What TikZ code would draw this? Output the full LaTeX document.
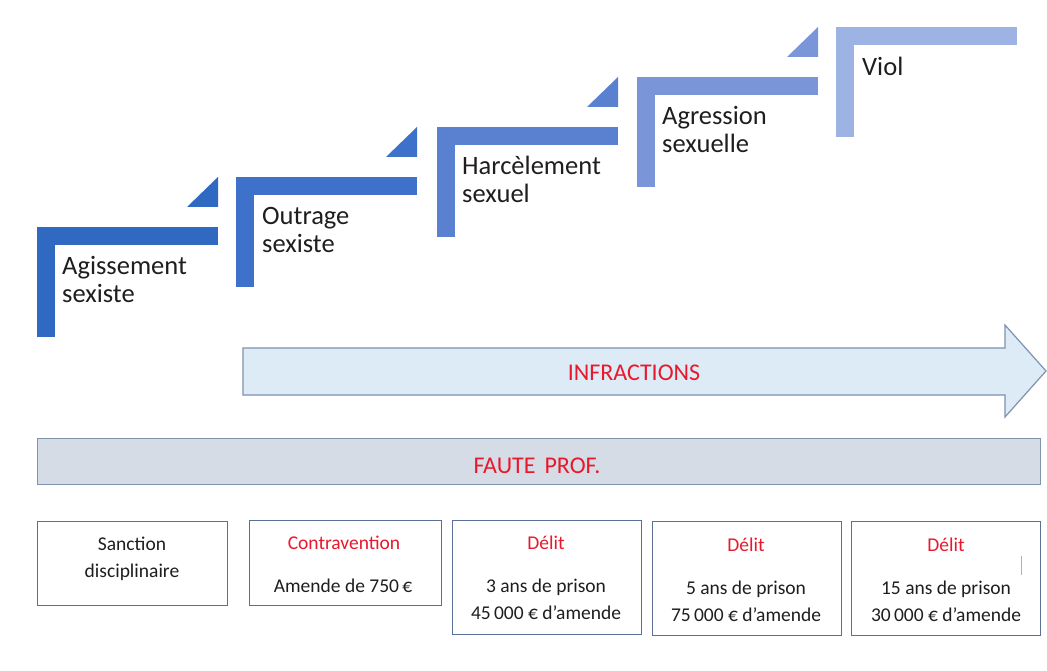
\documentclass[tikz,border=0pt]{standalone}
\usepackage{fontspec}
\setmainfont{Carlito}
\definecolor{sA}{HTML}{2F69C2}
\definecolor{sB}{HTML}{3E71CA}
\definecolor{sC}{HTML}{5A80D0}
\definecolor{sD}{HTML}{7A96D8}
\definecolor{sE}{HTML}{9DB3E3}
\definecolor{txt}{HTML}{1E1E1E}
\definecolor{redtxt}{HTML}{E8192C}
\definecolor{arrfill}{HTML}{DDEBF7}
\definecolor{arredge}{HTML}{7F92AE}
\definecolor{barfill}{HTML}{D6DCE5}
\definecolor{boxedge}{HTML}{5B7096}
\begin{document}
\begin{tikzpicture}[x=1pt,y=-1pt,
  steptext/.style={anchor=base west, inner sep=0pt, text=txt, font=\fontsize{26.5}{28}\selectfont},
  bigred/.style={anchor=base, inner sep=0pt, text=redtxt, font=\fontsize{24}{26}\selectfont},
  boxnode/.style={draw=boxedge, line width=1.1pt, fill=white, anchor=north west, inner sep=0pt},
  redline/.style={anchor=base, inner sep=0pt, text=redtxt, font=\fontsize{19.5}{21}\selectfont},
  blackline/.style={anchor=base, inner sep=0pt, text=txt, font=\fontsize{19.5}{21}\selectfont}]
\useasboundingbox (0,0) rectangle (1047,671);
\fill[white] (0,0) rectangle (1047,671);
% steps
\newcommand{\stepshape}[4]{% x0, top, colour, triangle?
  \fill[#3] (#1,#2) rectangle ++(181,18);
  \fill[#3] (#1,#2) rectangle ++(18,110);
  \ifnum#4=1
  \fill[#3] (#1+150,#2-20) -- (#1+181,#2-20) -- (#1+181,#2-50) -- cycle;
  \fi}
\stepshape{37}{227}{sA}{1}
\stepshape{236}{177}{sB}{1}
\stepshape{437}{127}{sC}{1}
\stepshape{637}{77}{sD}{1}
\stepshape{836}{27}{sE}{0}
\node[steptext] (t1) at (62,275) {\vtop{\baselineskip=28pt\hbox{Agissement}\hbox{sexiste}}};
\node[steptext] (t2) at (262,225) {\vtop{\baselineskip=28pt\hbox{Outrage}\hbox{sexiste}}};
\node[steptext] (t3) at (462,175) {\vtop{\baselineskip=28pt\hbox{Harcèlement}\hbox{sexuel}}};
\node[steptext] (t4) at (662,125) {\vtop{\baselineskip=28pt\hbox{Agression}\hbox{sexuelle}}};
\node[steptext] (t5) at (862,76) {Viol};
% infractions arrow
\draw[fill=arrfill, draw=arredge, line width=1.2pt, line join=miter]
  (243,348) -- (1005,348) -- (1005,325) -- (1046,371) -- (1005,417) -- (1005,395) -- (243,395) -- cycle;
\node[bigred] (inf) at (634,380) {INFRACTIONS};
% faute prof bar
\node[draw=arredge, fill=barfill, line width=1.2pt, anchor=north west, minimum width=1003, minimum height=46, inner sep=0pt] (fp) at (37,438) {};
\node[bigred] (fpt) at (537,473) {FAUTE\hspace{9pt}PROF.};
% bottom boxes
\node[boxnode, minimum width=190, minimum height=84] (b1) at (37,521) {};
\node[boxnode, minimum width=192, minimum height=85] (b2) at (249,520) {};
\node[boxnode, minimum width=189, minimum height=114] (b3) at (452,520) {};
\node[boxnode, minimum width=189, minimum height=114] (b4) at (652,521) {};
\node[boxnode, minimum width=189, minimum height=114] (b5) at (851,521) {};
\node[blackline] (b1a) at (132,550) {Sanction};
\node[blackline] (b1b) at (132,577) {disciplinaire};
\node[redline] (b2a) at (344,549) {Contravention};
\node[blackline] (b2b) at (343,592) {Amende de 750\,€};
\node[redline] (b3a) at (546,549) {Délit};
\node[blackline] (b3b) at (546,592) {3 ans de prison};
\node[blackline] (b3c) at (546,619) {45\,000 € d’amende};
\node[redline] (b4a) at (746,551) {Délit};
\node[blackline] (b4b) at (746,594) {5 ans de prison};
\node[blackline] (b4c) at (746,621) {75\,000 € d’amende};
\node[redline] (b5a) at (946,551) {Délit};
\node[blackline] (b5b) at (946,594) {15 ans de prison};
\node[blackline] (b5c) at (946,621) {30\,000 € d’amende};
\draw[gray!60, line width=1pt] (1021,556) -- (1021,575);
\end{tikzpicture}
\end{document}
